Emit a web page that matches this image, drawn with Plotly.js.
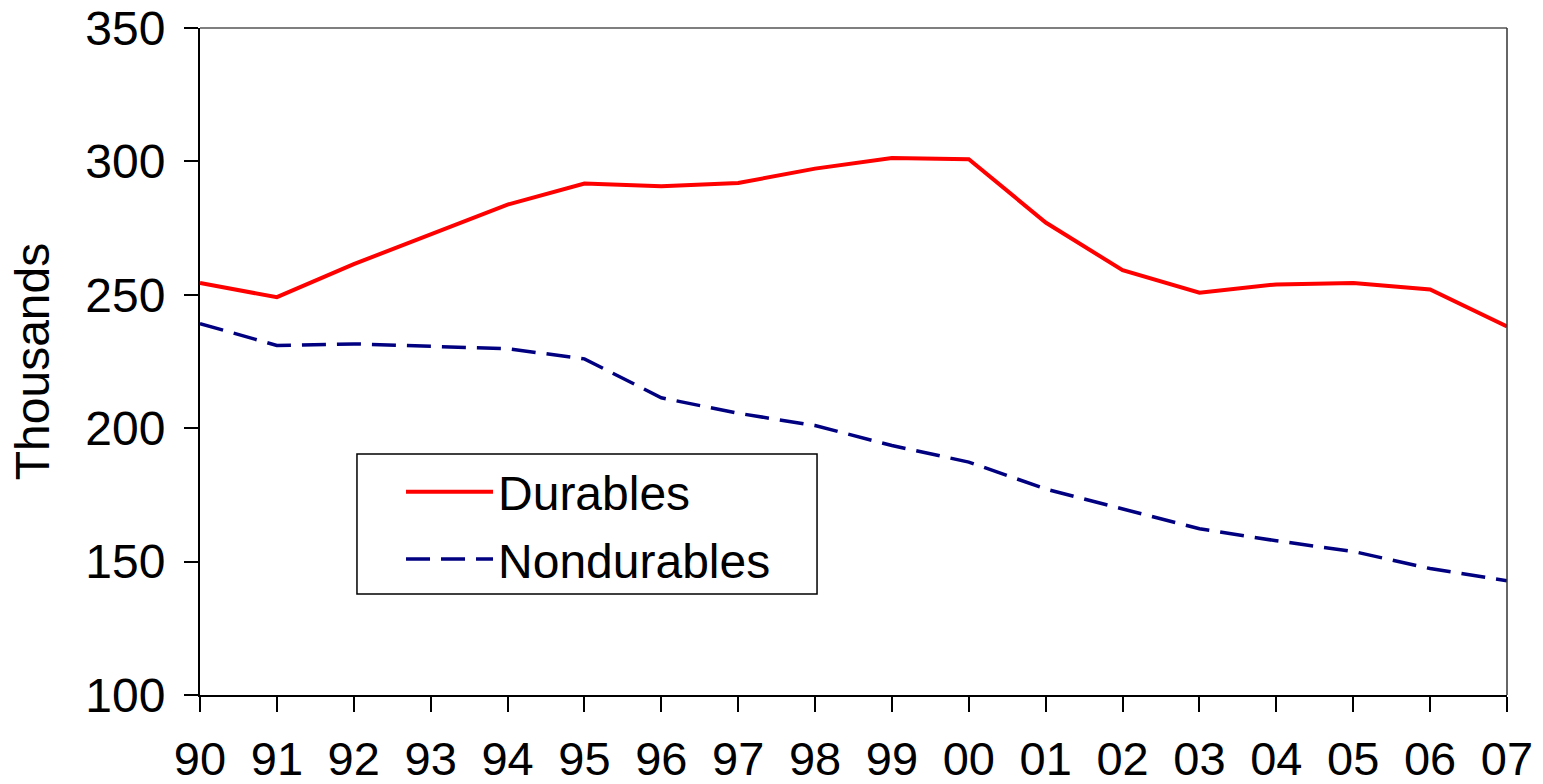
<!DOCTYPE html>
<html>
<head>
<meta charset="utf-8">
<script src="https://cdn.plot.ly/plotly-3.0.1.min.js"></script>
<style>
  html, body { margin: 0; padding: 0; background: #fff; }
  #chart { width: 1543px; height: 784px; }
</style>
</head>
<body>
<div id="chart"></div>
<script>
const years = ['90','91','92','93','94','95','96','97','98','99','00','01','02','03','04','05','06','07'];
const durables = [254.4, 249.1, 261.5, 272.7, 283.8, 291.7, 290.7, 291.9, 297.3, 301.3, 300.8, 277.1, 259.2, 250.8, 253.9, 254.4, 252.0, 238.1];
const nondurables = [239.2, 231.0, 231.6, 230.7, 229.8, 226.0, 211.4, 205.6, 201.0, 193.5, 187.3, 177.2, 169.8, 162.3, 157.8, 153.8, 147.4, 142.8];
const yTicks = [100, 150, 200, 250, 300, 350];

const FONT = 'Liberation Sans, Arial, sans-serif';

const traces = [
  {
    x: years, y: durables, name: 'Durables', type: 'scatter', mode: 'lines',
    legendgroup: 'd',
    line: { color: '#FF0000', width: 4 }, hoverinfo: 'x+y+name'
  },
  {
    x: years, y: nondurables, name: 'Nondurables', type: 'scatter', mode: 'lines',
    legendgroup: 'n',
    line: { color: '#000080', width: 3.5, dash: '24px,11px' }, hoverinfo: 'x+y+name'
  }
];

const layout = {
  width: 1543, height: 784,
  margin: { l: 200, r: 36, t: 28, b: 89 },
  paper_bgcolor: '#ffffff', plot_bgcolor: '#ffffff',
  font: { family: FONT, size: 48, color: '#000' },
  showlegend: true,
  legend: {
    x: 0.1538, y: 0.3613, xanchor: 'left', yanchor: 'top',
    bgcolor: 'rgba(0,0,0,0)', borderwidth: 0,
    font: { family: FONT, size: 48, color: '#000' },
    itemwidth: 87, traceorder: 'grouped', tracegroupgap: 2
  },
  xaxis: {
    type: 'category', range: [0, years.length - 1],
    showgrid: false, zeroline: false,
    showline: true, linecolor: '#000', linewidth: 2,
    ticks: 'outside', ticklen: 15, tickwidth: 1.5, tickcolor: '#000',
    ticklabelstandoff: 7,
    tickfont: { family: FONT, size: 47, color: '#000' },
    fixedrange: true
  },
  yaxis: {
    range: [100, 350], tickvals: yTicks, ticktext: yTicks.map(String),
    showgrid: false, zeroline: false,
    showline: true, linecolor: '#000', linewidth: 2,
    ticks: 'outside', ticklen: 14, tickwidth: 1.5, tickcolor: '#000',
    ticklabelstandoff: 9,
    tickfont: { family: FONT, size: 48, color: '#000' },
    title: { text: 'Thousands', font: { family: FONT, size: 48, color: '#000' }, standoff: 21 },
    fixedrange: true
  },
  shapes: [
    { type: 'line', xref: 'paper', yref: 'paper', x0: 0, x1: 1, y0: 1, y1: 1, line: { color: '#555', width: 1.5 } },
    { type: 'line', xref: 'paper', yref: 'paper', x0: 1, x1: 1, y0: 0, y1: 1, line: { color: '#333', width: 1.5 } },
    { type: 'rect', xref: 'paper', yref: 'paper', x0: 0.1201, x1: 0.4721, y0: 0.1514, y1: 0.3613,
      line: { color: '#000', width: 1.5 }, fillcolor: '#ffffff', layer: 'above' }
  ]
};

Plotly.newPlot('chart', traces, layout, { displayModeBar: false });
</script>
</body>
</html>
